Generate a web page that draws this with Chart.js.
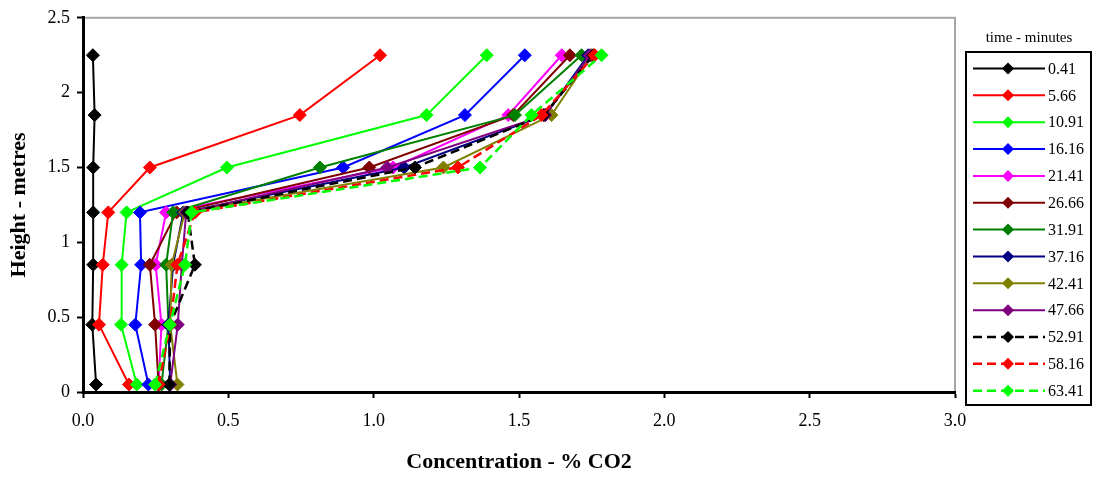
<!DOCTYPE html>
<html>
<head>
<meta charset="utf-8">
<script src="https://cdn.jsdelivr.net/npm/chart.js@4/dist/chart.umd.min.js"></script>
<style>
  body { margin: 0; background: #fff; }
  canvas { display: block; }
</style>
</head>
<body>
<canvas id="co2Chart" width="1096" height="477"></canvas>
<script>
// heights of the sampling points (metres)
const heights = [0.05, 0.45, 0.85, 1.2, 1.5, 1.85, 2.25];

// time labels (minutes)
const times = ['0.41', '5.66', '10.91', '16.16', '21.41', '26.66', '31.91',
               '37.16', '42.41', '47.66', '52.91', '58.16', '63.41'];

// % CO2 at each height, one list per time
const c041 = [0.045, 0.032, 0.035, 0.035, 0.035, 0.040, 0.034];
const c566 = [0.158, 0.055, 0.068, 0.087, 0.230, 0.746, 1.022];
const c1091 = [0.185, 0.131, 0.133, 0.150, 0.495, 1.182, 1.389];
const c1616 = [0.225, 0.180, 0.200, 0.196, 0.895, 1.314, 1.520];
const c2141 = [0.260, 0.270, 0.250, 0.286, 1.067, 1.463, 1.647];
const c2666 = [0.260, 0.248, 0.230, 0.322, 0.985, 1.480, 1.675];
const c3191 = [0.270, 0.294, 0.286, 0.310, 0.815, 1.486, 1.715];
const c3716 = [0.300, 0.294, 0.310, 0.345, 1.105, 1.590, 1.738];
const c4241 = [0.325, 0.300, 0.305, 0.350, 1.240, 1.612, 1.750];
const c4766 = [0.300, 0.326, 0.340, 0.355, 1.047, 1.590, 1.745];
const c5291 = [0.297, 0.300, 0.385, 0.360, 1.142, 1.585, 1.756];
const c5816 = [0.260, 0.300, 0.325, 0.385, 1.290, 1.578, 1.760];
const c6341 = [0.248, 0.299, 0.351, 0.374, 1.366, 1.543, 1.784];

const allValues = [c041, c566, c1091, c1616, c2141, c2666, c3191,
                   c3716, c4241, c4766, c5291, c5816, c6341];

const colours = ['#000000', '#ff0000', '#00ff00', '#0000ff', '#ff00ff', '#800000', '#008000',
                 '#000080', '#808000', '#800080', '#000000', '#ff0000', '#00ff00'];
const dashed = [false, false, false, false, false, false, false,
                false, false, false, true, true, true];

const xTicks = [0, 0.5, 1, 1.5, 2, 2.5, 3];
const yTicks = [0, 0.5, 1, 1.5, 2, 2.5];
const yTickLabels = ['0', '0.5', '1', '1.5', '2', '2.5'];

const serif = "'Liberation Serif', 'Times New Roman', serif";

const datasets = times.map((t, i) => ({
    label: t,
    data: allValues[i].map((v, k) => ({ x: v, y: heights[k] })),
    showLine: true,
    borderColor: colours[i],
    backgroundColor: colours[i],
    borderWidth: dashed[i] ? 2.5 : 2,
    borderDash: dashed[i] ? [9, 5] : [],
    pointStyle: 'rectRot',
    pointRadius: 6.5,
    pointBorderWidth: 1,
    pointBackgroundColor: colours[i],
    pointBorderColor: colours[i],
    tension: 0,
    order: times.length - i   // later series drawn on top, as in the original
}));

// gray frame on top / right of plot area
const frame = {
    id: 'frame',
    beforeDraw(chart) {
        const { ctx, chartArea: a } = chart;
        ctx.save();
        ctx.strokeStyle = '#a6a6a6';
        ctx.lineWidth = 2;
        ctx.strokeRect(a.left, a.top, a.right - a.left, a.bottom - a.top);
        ctx.restore();
    }
};

// boxed legend on the right, with line + diamond samples
const sideLegend = {
    id: 'sideLegend',
    afterDraw(chart) {
        const ctx = chart.ctx;
        ctx.save();
        ctx.fillStyle = '#000';
        ctx.font = '15px ' + serif;
        ctx.textAlign = 'center';
        ctx.textBaseline = 'middle';
        ctx.fillText('time - minutes', 1029, 38);

        ctx.strokeStyle = '#000';
        ctx.lineWidth = 2;
        ctx.strokeRect(966, 52, 125, 353);

        ctx.font = '16px ' + serif;
        ctx.textAlign = 'left';
        chart.data.datasets.forEach((ds, i) => {
            const y = 68.5 + i * 26.85;
            ctx.strokeStyle = ds.borderColor;
            ctx.lineWidth = ds.borderWidth;
            ctx.setLineDash(ds.borderDash);
            ctx.beginPath();
            ctx.moveTo(973, y);
            ctx.lineTo(1045, y);
            ctx.stroke();
            ctx.setLineDash([]);
            ctx.fillStyle = ds.backgroundColor;
            ctx.beginPath();
            ctx.moveTo(1008, y - 6);
            ctx.lineTo(1014, y);
            ctx.lineTo(1008, y + 6);
            ctx.lineTo(1002, y);
            ctx.closePath();
            ctx.fill();
            ctx.fillStyle = '#000';
            ctx.fillText(ds.label, 1048, y + 1);
        });
        ctx.restore();
    }
};

const ctx = document.getElementById('co2Chart').getContext('2d');
new Chart(ctx, {
    type: 'scatter',
    data: { datasets },
    plugins: [frame, sideLegend],
    options: {
        responsive: false,
        animation: false,
        layout: { padding: { top: 15, right: 141, left: 0, bottom: 0 } },
        plugins: {
            legend: { display: false },
            tooltip: { enabled: false }
        },
        scales: {
            x: {
                type: 'linear',
                min: 0,
                max: 3,
                afterFit(scale) { scale.height = 85; },
                afterBuildTicks(scale) { scale.ticks = xTicks.map(v => ({ value: v })); },
                ticks: {
                    color: '#000',
                    font: { family: serif, size: 18 },
                    padding: 12,
                    maxRotation: 0,
                    callback: v => Number(v).toFixed(1)
                },
                grid: {
                    drawOnChartArea: false,
                    tickLength: 6,
                    tickColor: '#000',
                    tickWidth: 2
                },
                border: { color: '#000', width: 3 },
                title: {
                    display: true,
                    text: 'Concentration - % CO2',
                    color: '#000',
                    font: { family: serif, size: 22, weight: 'bold' },
                    padding: { top: 0, bottom: 1 }
                }
            },
            y: {
                type: 'linear',
                min: 0,
                max: 2.5,
                afterFit(scale) { scale.width = 83; },
                afterBuildTicks(scale) { scale.ticks = yTicks.map(v => ({ value: v })); },
                ticks: {
                    color: '#000',
                    font: { family: serif, size: 18 },
                    padding: 7,
                    callback: (v, idx) => yTickLabels[idx]
                },
                grid: {
                    drawOnChartArea: false,
                    tickLength: 6,
                    tickColor: '#000',
                    tickWidth: 2
                },
                border: { color: '#000', width: 3 },
                title: {
                    display: true,
                    text: 'Height - metres',
                    color: '#000',
                    font: { family: serif, size: 22, weight: 'bold' },
                    padding: { top: 6, bottom: 0 }
                }
            }
        }
    }
});
</script>
</body>
</html>
